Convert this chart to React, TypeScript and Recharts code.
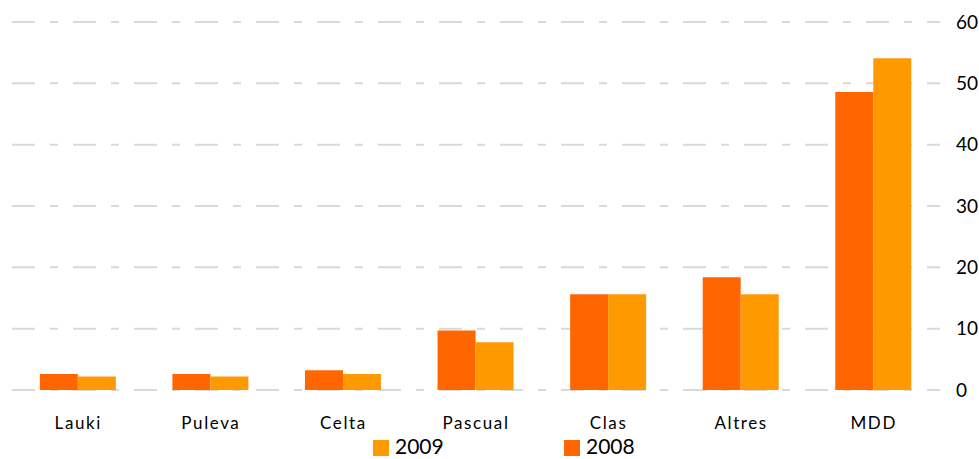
import React from "react";
import {
  BarChart,
  Bar,
  XAxis,
  YAxis,
  CartesianGrid,
  Legend,
} from "recharts";

const categories: string[] = ["Lauki", "Puleva", "Celta", "Pascual", "Clas", "Altres", "MDD"];
const values2008: number[] = [2.6, 2.6, 3.2, 9.7, 15.6, 18.4, 48.6];
const values2009: number[] = [2.2, 2.2, 2.6, 7.8, 15.6, 15.6, 54.1];
const yTicks: number[] = [0, 10, 20, 30, 40, 50, 60];

const COLOR_2008 = "#FF6600";
const COLOR_2009 = "#FF9900";
const FONT = "Lato, 'Open Sans', sans-serif";

// the page comes with an 8px body margin; the chart fills the whole window
document.body.style.margin = "0";

const data = categories.map((name, i) => ({
  name,
  y2008: values2008[i],
  y2009: values2009[i],
}));

// legend lists 2009 first, like the original
const legendItems = [
  { label: "2009", color: COLOR_2009 },
  { label: "2008", color: COLOR_2008 },
];

const LegendContent: React.FC = () => (
  <div style={styles.legend}>
    {legendItems.map((item) => (
      <div key={item.label} style={styles.legendItem}>
        <span style={{ ...styles.swatch, backgroundColor: item.color }} />
        <span style={styles.legendText}>{item.label}</span>
      </div>
    ))}
  </div>
);

const App: React.FC = () => {
  return (
    <div style={styles.container}>
      <BarChart
        width={979}
        height={459}
        data={data}
        barCategoryGap="21%"
        barGap={0}
        margin={{ top: 22, right: 0, left: 12, bottom: 0 }}
      >
        <CartesianGrid
          vertical={false}
          stroke="#d9d9d9"
          strokeWidth={2}
          strokeDasharray="23 15 8 15"
        />
        <XAxis
          dataKey="name"
          axisLine={false}
          tickLine={false}
          tickSize={0}
          tickMargin={27}
          height={40}
          interval={0}
          tick={{ fill: "#000", fontSize: 17, fontFamily: FONT, letterSpacing: 1.6 }}
        />
        <YAxis
          orientation="right"
          domain={[0, 60]}
          ticks={yTicks}
          axisLine={false}
          tickLine={false}
          tickSize={0}
          tickMargin={16}
          width={39}
          tick={{ fill: "#000", fontSize: 19, fontFamily: FONT, textAnchor: "start" }}
        />
        <Legend
          verticalAlign="bottom"
          height={29}
          wrapperStyle={{ left: 0, width: 979 }}
          content={() => <LegendContent />}
        />
        <Bar dataKey="y2008" name="2008" fill={COLOR_2008} isAnimationActive={false} />
        <Bar dataKey="y2009" name="2009" fill={COLOR_2009} isAnimationActive={false} />
      </BarChart>
    </div>
  );
};

const styles: { [key: string]: React.CSSProperties } = {
  container: {
    width: "979px",
    height: "459px",
    backgroundColor: "#fff",
  },
  legend: {
    display: "flex",
    height: "29px",
    paddingLeft: "373px",
    boxSizing: "border-box",
    alignItems: "flex-start",
  },
  legendItem: {
    display: "flex",
    alignItems: "flex-start",
    width: "191px",
    marginTop: "7px",
  },
  swatch: {
    display: "inline-block",
    width: "16px",
    height: "16px",
    marginTop: "3px",
    marginRight: "6px",
  },
  legendText: {
    fontFamily: FONT,
    fontSize: "21px",
    color: "#000",
    lineHeight: "18px",
  },
};

export default App;
